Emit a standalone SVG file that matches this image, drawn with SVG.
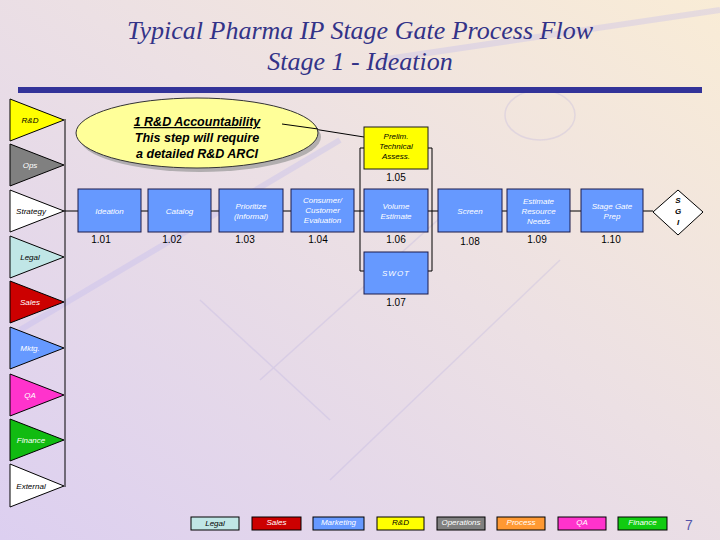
<svg xmlns="http://www.w3.org/2000/svg" width="720" height="540" viewBox="0 0 720 540">
<defs>
<linearGradient id="bg" x1="1" y1="0" x2="0" y2="1">
<stop offset="0" stop-color="#f9ecd6"/>
<stop offset="0.45" stop-color="#ece0e4"/>
<stop offset="1" stop-color="#dccff0"/>
</linearGradient>
<style>
.lane{stroke:#000;stroke-width:1}
.lt{font-family:"Liberation Sans",Arial,sans-serif;font-style:italic;font-size:8px;text-anchor:middle}
.box{fill:#6699ff;stroke:#1a1a4a;stroke-width:1}
.bt{font-family:"Liberation Sans",Arial,sans-serif;font-style:italic;font-size:8px;fill:#fff;text-anchor:middle}
.num{font-family:"Liberation Sans",Arial,sans-serif;font-size:10px;fill:#000;text-anchor:middle}
.con{stroke:#000;stroke-width:1;fill:none}
.leg{stroke:#000;stroke-width:1}
.title{font-family:"Liberation Serif","Times New Roman",serif;font-style:italic;font-size:26px;fill:#333388;text-anchor:middle}
</style>
</defs>
<rect width="720" height="540" fill="url(#bg)"/>
<g stroke="#b8b4ee" stroke-width="6" opacity="0.3" fill="none">
<line x1="20" y1="330" x2="340" y2="140"/>
<line x1="380" y1="60" x2="720" y2="10"/>
</g>
<g stroke="#b0a8e0" stroke-width="1.5" opacity="0.25" fill="none">
<line x1="200" y1="300" x2="330" y2="420"/>
<line x1="260" y1="380" x2="460" y2="200"/>
<line x1="330" y1="480" x2="560" y2="260"/>
<ellipse cx="540" cy="115" rx="35" ry="25"/>
</g>
<g id="title">
<text class="title" x="360" y="39">Typical Pharma IP Stage Gate Process Flow</text>
<text class="title" x="360" y="70">Stage 1 - Ideation</text>
<rect x="18" y="87" width="684" height="6" fill="#333399"/>
</g>
<g id="lanes">
<line x1="65" y1="119" x2="65" y2="487" stroke="#000"/>
<g id="lane-rd"><polygon class="lane" points="10,99 10,141 64,120" fill="#ffff00"/><text class="lt" x="30" y="123" fill="#000">R&amp;D</text></g>
<g id="lane-ops"><polygon class="lane" points="10,144 10,186 64,165" fill="#808080"/><text class="lt" x="30" y="168" fill="#fff">Ops</text></g>
<g id="lane-strategy"><polygon class="lane" points="10,190 10,232 64,211" fill="#ffffff"/><text class="lt" x="31" y="214" fill="#000">Strategy</text></g>
<g id="lane-legal"><polygon class="lane" points="10,236 10,278 64,257" fill="#c0e6e6"/><text class="lt" x="30" y="260" fill="#000">Legal</text></g>
<g id="lane-sales"><polygon class="lane" points="10,281 10,323 64,302" fill="#cc0000"/><text class="lt" x="30" y="305" fill="#fff">Sales</text></g>
<g id="lane-mktg"><polygon class="lane" points="10,327 10,369 64,348" fill="#6699ff"/><text class="lt" x="30" y="351" fill="#fff">Mktg.</text></g>
<g id="lane-qa"><polygon class="lane" points="10,374 10,416 64,395" fill="#ff33cc"/><text class="lt" x="30" y="398" fill="#fff">QA</text></g>
<g id="lane-finance"><polygon class="lane" points="10,419 10,461 64,440" fill="#11bb11"/><text class="lt" x="31" y="443" fill="#fff">Finance</text></g>
<g id="lane-external"><polygon class="lane" points="10,464 10,507 64,486" fill="#ffffff"/><text class="lt" x="31" y="489" fill="#000">External</text></g>
</g>
<g id="connectors">
<line class="con" x1="64" y1="211" x2="78" y2="211"/>
<line class="con" x1="141" y1="211" x2="148" y2="211"/>
<line class="con" x1="211" y1="211" x2="219" y2="211"/>
<line class="con" x1="283" y1="211" x2="291" y2="211"/>
<line class="con" x1="354" y1="211" x2="364" y2="211"/>
<line class="con" x1="428" y1="211" x2="438" y2="211"/>
<line class="con" x1="502" y1="211" x2="507" y2="211"/>
<line class="con" x1="570" y1="211" x2="581" y2="211"/>
<line class="con" x1="643" y1="211" x2="653" y2="211"/>
<polyline class="con" points="364,148 360,148 360,271 364,271"/>
<polyline class="con" points="428,148 432,148 432,271 428,271"/>
<line class="con" x1="282" y1="124" x2="364" y2="137"/>
</g>
<g id="callout">
<ellipse cx="200" cy="137" rx="121" ry="35" fill="#999" opacity="0.7"/>
<ellipse cx="197" cy="133" rx="121" ry="35" fill="#ffff99" stroke="#333" stroke-width="1"/>
<line class="con" x1="282" y1="124" x2="318" y2="129"/>
<g font-family="'Liberation Sans',Arial,sans-serif" font-style="italic" font-weight="bold" font-size="12.5" fill="#000" text-anchor="middle">
<text x="197" y="126" text-decoration="underline">1 R&amp;D Accountability</text>
<text x="197" y="142">This step will require</text>
<text x="197" y="158">a detailed R&amp;D ARCI</text>
</g>
</g>
<g id="n105">
<rect x="364" y="127" width="64" height="42" fill="#ffff00" stroke="#1a1a1a"/>
<text class="bt" style="fill:#000" x="396" y="139">Prelim.</text>
<text class="bt" style="fill:#000" x="396" y="149">Technical</text>
<text class="bt" style="fill:#000" x="396" y="159">Assess.</text>
<text class="num" x="396" y="181">1.05</text>
</g>
<g id="n101"><rect class="box" x="78" y="189" width="63" height="43"/><text class="bt" x="109.5" y="214">Ideation</text><text class="num" x="101" y="243">1.01</text></g>
<g id="n102"><rect class="box" x="148" y="189" width="63" height="43"/><text class="bt" x="179.5" y="214">Catalog</text><text class="num" x="172" y="243">1.02</text></g>
<g id="n103"><rect class="box" x="219" y="189" width="64" height="43"/><text class="bt" x="251" y="209">Prioritize</text><text class="bt" x="251" y="219">(Informal)</text><text class="num" x="245" y="243">1.03</text></g>
<g id="n104"><rect class="box" x="291" y="189" width="63" height="43"/><text class="bt" x="322.5" y="203">Consumer/</text><text class="bt" x="322.5" y="213">Customer</text><text class="bt" x="322.5" y="223">Evaluation</text><text class="num" x="318" y="243">1.04</text></g>
<g id="n106"><rect class="box" x="364" y="189" width="64" height="43"/><text class="bt" x="396" y="209">Volume</text><text class="bt" x="396" y="219">Estimate</text><text class="num" x="396" y="243">1.06</text></g>
<g id="n107"><rect class="box" x="364" y="252" width="64" height="42"/><text class="bt" x="396" y="276" letter-spacing="1">SWOT</text><text class="num" x="396" y="306">1.07</text></g>
<g id="n108"><rect class="box" x="438" y="189" width="64" height="43"/><text class="bt" x="470" y="214">Screen</text><text class="num" x="470" y="245">1.08</text></g>
<g id="n109"><rect class="box" x="507" y="189" width="63" height="43"/><text class="bt" x="538.5" y="204">Estimate</text><text class="bt" x="538.5" y="214">Resource</text><text class="bt" x="538.5" y="224">Needs</text><text class="num" x="537" y="243">1.09</text></g>
<g id="n110"><rect class="box" x="581" y="189" width="62" height="43"/><text class="bt" x="612" y="209">Stage Gate</text><text class="bt" x="612" y="219">Prep</text><text class="num" x="611" y="243">1.10</text></g>
<g id="gate">
<polygon points="678,190 703,212 678,235 653,212" fill="#fff" stroke="#000"/>
<g font-family="'Liberation Sans',Arial,sans-serif" font-style="italic" font-weight="bold" font-size="8" fill="#000" text-anchor="middle">
<text x="678" y="203">S</text>
<text x="678" y="214">G</text>
<text x="678" y="225">I</text>
</g>
</g>
<g id="legend">
<rect class="leg" x="191" y="517" width="48" height="13" fill="#c0e6e6"/><text class="lt" x="215" y="526" fill="#000">Legal</text>
<rect class="leg" x="252" y="517" width="49" height="13" fill="#cc0000"/><text class="lt" x="276.5" y="525" fill="#fff">Sales</text>
<rect class="leg" x="313" y="517" width="51" height="13" fill="#6699ff"/><text class="lt" x="338.5" y="525" fill="#fff">Marketing</text>
<rect class="leg" x="377" y="517" width="47" height="13" fill="#ffff00"/><text class="lt" x="400.5" y="525" fill="#000">R&amp;D</text>
<rect class="leg" x="437" y="517" width="48" height="13" fill="#808080"/><text class="lt" x="461" y="525" fill="#fff">Operations</text>
<rect class="leg" x="497" y="517" width="48" height="13" fill="#ff9933"/><text class="lt" x="521" y="525" fill="#fff">Process</text>
<rect class="leg" x="558" y="517" width="48" height="13" fill="#ff33cc"/><text class="lt" x="582" y="525" fill="#fff">QA</text>
<rect class="leg" x="618" y="517" width="49" height="13" fill="#11cc11"/><text class="lt" x="642.5" y="525" fill="#fff">Finance</text>
<text x="689" y="530" font-family="'Liberation Sans',Arial,sans-serif" font-size="14" fill="#5555aa" text-anchor="middle">7</text>
</g>
</svg>
